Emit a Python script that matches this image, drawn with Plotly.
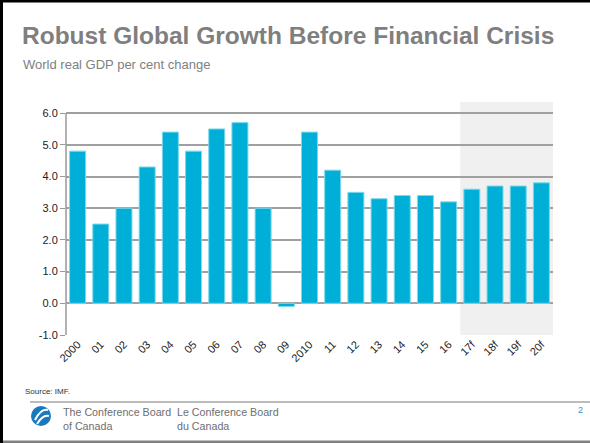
import plotly.graph_objects as go

categories = ["2000", "01", "02", "03", "04", "05", "06", "07", "08", "09", "2010",
              "11", "12", "13", "14", "15", "16", "17f", "18f", "19f", "20f"]
gdp_growth = [4.8, 2.5, 3.0, 4.3, 5.4, 4.8, 5.5, 5.7, 3.0, -0.1, 5.4,
              4.2, 3.5, 3.3, 3.4, 3.4, 3.2, 3.6, 3.7, 3.7, 3.8]
y_ticks = [-1, 0, 1, 2, 3, 4, 5, 6]
y_tick_labels = ["-1.0", "0.0", "1.0", "2.0", "3.0", "4.0", "5.0", "6.0"]

W, H = 590, 443
L, R, T, B = 66, 37, 102, 108
PW, PH = W - L - R, H - T - B


def px(x):
    return (x - L) / PW


def py(y):
    return (H - B - y) / PH


fig = go.Figure()
fig.add_trace(go.Bar(
    x=categories, y=gdp_growth,
    marker=dict(color="#00AFD7", line=dict(color="#7DD8EC", width=1)),
    hoverinfo="x+y",
))

shapes = []
# forecast shading
shapes.append(dict(type="rect", xref="x", yref="paper", x0=16.5, x1=20.5, y0=0, y1=1,
                   fillcolor="#F0F0F0", line=dict(width=0), layer="below"))
# y axis line from -1 to 6
shapes.append(dict(type="line", xref="paper", yref="y", x0=0, x1=0, y0=-1, y1=6,
                   line=dict(color="#999999", width=1.5), layer="above"))
# footer separator
shapes.append(dict(type="line", xref="paper", yref="paper", x0=px(30), x1=px(590),
                   y0=py(402), y1=py(402), line=dict(color="#A6A6A6", width=1.5)))
# slide borders
shapes.append(dict(type="rect", xref="paper", yref="paper", x0=px(-5), x1=px(3),
                   y0=py(450), y1=py(-5), fillcolor="#000000", line=dict(width=0)))
shapes.append(dict(type="rect", xref="paper", yref="paper", x0=px(-5), x1=px(595),
                   y0=py(2.5), y1=py(-5), fillcolor="#000000", line=dict(width=0)))
shapes.append(dict(type="rect", xref="paper", yref="paper", x0=px(3), x1=px(595),
                   y0=py(450), y1=py(440.5), fillcolor="#808080", line=dict(width=0)))
# logo circle
shapes.append(dict(type="circle", xref="paper", yref="paper", x0=px(31), x1=px(51),
                   y0=py(426), y1=py(406), fillcolor="#1A78BE", line=dict(width=0)))
shapes.append(dict(type="path", xref="paper", yref="paper",
                   path="M %f,%f Q %f,%f %f,%f" % (px(35), py(420), px(41), py(408), px(48), py(410)),
                   line=dict(color="white", width=2)))
shapes.append(dict(type="path", xref="paper", yref="paper",
                   path="M %f,%f Q %f,%f %f,%f" % (px(37), py(424), px(43), py(414), px(49), py(416)),
                   line=dict(color="white", width=2)))

annotations = [
    dict(text="<b>Robust Global Growth Before Financial Crisis</b>", x=px(20), y=py(35.5),
         xanchor="left", yanchor="middle", font=dict(size=24.5, color="#7F7F7F")),
    dict(text="World real GDP per cent change", x=px(21), y=py(64.5),
         xanchor="left", yanchor="middle", font=dict(size=13, color="#7F7F7F")),
    dict(text="Source: IMF.", x=px(23), y=py(391),
         xanchor="left", yanchor="middle", font=dict(size=8, color="#333333")),
    dict(text="The Conference Board<br>of Canada", x=px(61), y=py(419),
         xanchor="left", yanchor="middle", align="left",
         font=dict(size=10.7, color="#6E6E6E")),
    dict(text="Le Conference Board<br>du Canada", x=px(175), y=py(419),
         xanchor="left", yanchor="middle", align="left",
         font=dict(size=10.7, color="#6E6E6E")),
    dict(text="2", x=px(580), y=py(410),
         xanchor="center", yanchor="middle", font=dict(size=9, color="#3A8FD0")),
]
for a in annotations:
    a.update(xref="paper", yref="paper", showarrow=False)

fig.update_layout(
    width=W, height=H,
    margin=dict(l=L, r=R, t=T, b=B, pad=0),
    paper_bgcolor="white", plot_bgcolor="rgba(0,0,0,0)",
    font=dict(family="Liberation Sans, Arial, sans-serif", color="#222222"),
    bargap=0.31,
    showlegend=False,
    shapes=shapes,
    annotations=annotations,
    xaxis=dict(type="category", tickangle=-45, tickfont=dict(size=11, color="#222222"),
               showgrid=False, showline=False, ticks="", range=[-0.5, 20.5]),
    yaxis=dict(range=[-1, 6.35], tickvals=y_ticks, ticktext=y_tick_labels,
               tickfont=dict(size=11, color="#222222"),
               showgrid=True, gridcolor="#A0A0A0", gridwidth=1.5,
               zeroline=True, zerolinecolor="#A0A0A0", zerolinewidth=1.5,
               showline=False, ticks="outside", ticklen=5, tickcolor="#999999"),
)

fig.write_html(
    "out.html",
    config={"displayModeBar": False},
    post_script="document.body.style.margin='0';document.body.style.overflow='hidden';",
)
